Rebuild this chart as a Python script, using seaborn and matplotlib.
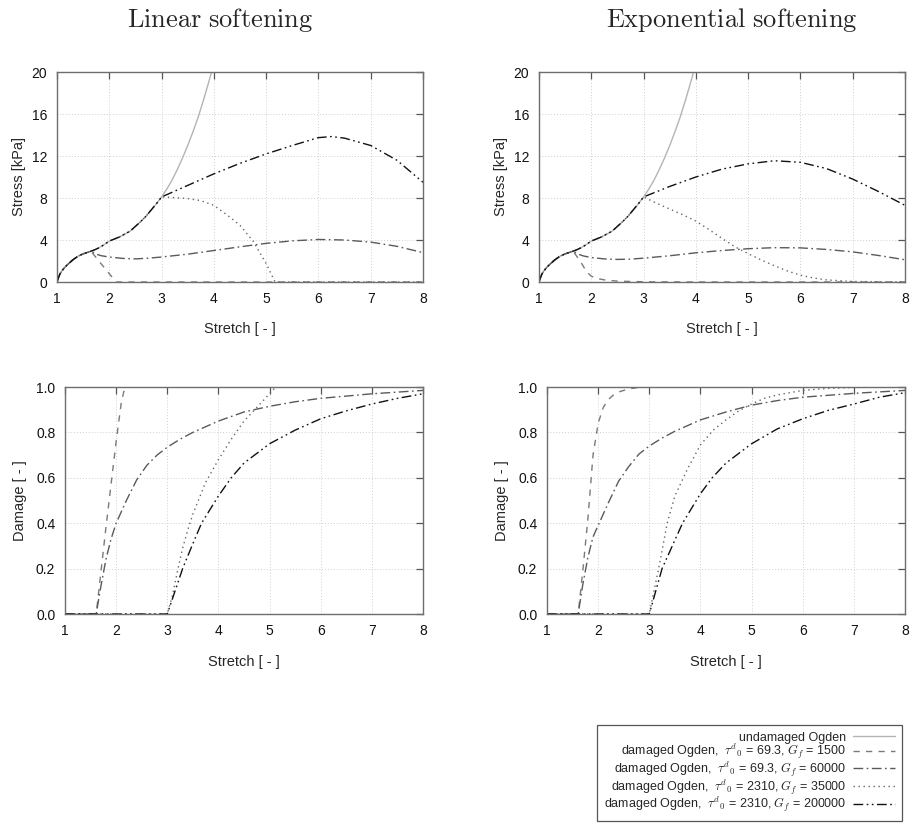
import matplotlib
matplotlib.use("Agg")
import matplotlib.pyplot as plt
import seaborn as sns

# ---------------- data ----------------
# undamaged Ogden stress [kPa] vs stretch [-]
undamaged_x = [1.0, 1.03, 1.06, 1.1, 1.15, 1.2, 1.3, 1.4, 1.5, 1.6, 1.7, 1.8, 1.9, 2.0,
               2.2, 2.4, 2.5, 2.6, 2.7, 2.8, 2.9, 3.0, 3.1, 3.2, 3.3, 3.4, 3.5, 3.6,
               3.7, 3.8, 3.9, 4.0]
undamaged_s = [0.0, 0.45, 0.8, 1.1, 1.4, 1.65, 2.1, 2.45, 2.68, 2.85, 3.02, 3.25, 3.55, 3.9,
               4.3, 4.85, 5.3, 5.75, 6.25, 6.85, 7.45, 8.1, 8.85, 9.7, 10.7, 11.8, 13.0, 14.3,
               15.7, 17.3, 19.0, 20.8]

# onset of damage (branch from the undamaged curve)
onset_low = 1.65     # tau_0 = 69.3
onset_high = 3.0     # tau_0 = 2310

# --- Linear softening: stress after onset ---
lin_s1_x = [1.65, 1.8, 1.9, 2.0, 2.13, 3.0, 5.0, 8.0]
lin_s1_y = [2.93, 2.0, 1.4, 0.8, 0.0, 0.0, 0.0, 0.0]
lin_s2_x = [1.65, 1.75, 1.85, 2.0, 2.25, 2.5, 2.75, 3.0, 3.5, 4.0, 4.5, 5.0, 5.5, 6.0, 6.5, 7.0, 7.5, 8.0]
lin_s2_y = [2.93, 2.65, 2.5, 2.38, 2.25, 2.2, 2.27, 2.38, 2.65, 3.0, 3.35, 3.68, 3.92, 4.05, 4.0, 3.8, 3.4, 2.8]
lin_s3_x = [3.1, 3.25, 3.5, 3.75, 4.0, 4.25, 4.5, 4.75, 5.0, 5.17, 6.0, 7.0, 8.0]
lin_s3_y = [8.08, 8.03, 7.95, 7.75, 7.3, 6.4, 5.4, 3.9, 1.75, 0.0, 0.0, 0.0, 0.0]
lin_s4_x = [3.25, 3.5, 4.0, 4.5, 5.0, 5.5, 6.0, 6.25, 6.5, 7.0, 7.5, 8.0]
lin_s4_y = [8.65, 9.2, 10.3, 11.3, 12.2, 13.0, 13.75, 13.85, 13.7, 13.0, 11.6, 9.5]

# --- Exponential softening: stress after onset ---
exp_s1_x = [1.65, 1.7, 1.75, 1.8, 1.9, 2.0, 2.1, 2.25, 2.5, 3.0, 4.0, 8.0]
exp_s1_y = [2.93, 2.6, 2.25, 1.9, 1.05, 0.55, 0.35, 0.2, 0.08, 0.02, 0.0, 0.0]
exp_s2_x = [1.65, 1.75, 1.85, 2.0, 2.25, 2.5, 2.75, 3.0, 3.5, 4.0, 4.5, 5.0, 5.5, 6.0, 6.5, 7.0, 7.5, 8.0]
exp_s2_y = [2.93, 2.65, 2.48, 2.33, 2.2, 2.15, 2.18, 2.27, 2.5, 2.78, 3.0, 3.17, 3.27, 3.25, 3.1, 2.87, 2.52, 2.12]
exp_s3_x = [3.25, 3.5, 3.75, 4.0, 4.25, 4.5, 4.75, 5.0, 5.25, 5.5, 5.75, 6.0, 6.25, 6.5, 7.0, 8.0]
exp_s3_y = [7.5, 6.95, 6.4, 5.8, 5.0, 4.15, 3.35, 2.7, 2.1, 1.55, 1.05, 0.65, 0.38, 0.2, 0.05, 0.0]
exp_s4_x = [3.25, 3.5, 4.0, 4.5, 5.0, 5.5, 6.0, 6.5, 7.0, 7.5, 8.0]
exp_s4_y = [8.6, 9.1, 10.0, 10.75, 11.25, 11.55, 11.4, 10.8, 9.8, 8.6, 7.3]

# --- Linear softening: damage ---
lin_d1_x = [1.0, 1.61, 1.7, 1.8, 1.9, 2.0, 2.1, 2.15, 2.2, 8.0]
lin_d1_y = [0.0, 0.0, 0.18, 0.38, 0.57, 0.76, 0.93, 0.98, 1.0, 1.0]
lin_d2_x = [1.0, 1.61, 1.7, 1.8, 1.9, 2.0, 2.2, 2.4, 2.6, 2.8, 3.0, 3.25, 3.5, 4.0, 4.5, 5.0, 5.5, 6.0, 7.0, 8.0]
lin_d2_y = [0.0, 0.0, 0.12, 0.24, 0.33, 0.4, 0.5, 0.59, 0.655, 0.7, 0.735, 0.77, 0.8, 0.85, 0.89, 0.915, 0.935, 0.95, 0.97, 0.985]
lin_d3_x = [1.0, 3.0, 3.1, 3.2, 3.3, 3.4, 3.5, 3.75, 4.0, 4.25, 4.5, 4.75, 5.0, 5.12, 8.0]
lin_d3_y = [0.0, 0.0, 0.08, 0.19, 0.29, 0.37, 0.44, 0.58, 0.68, 0.77, 0.85, 0.91, 0.97, 1.0, 1.0]
lin_d4_x = [1.0, 3.0, 3.15, 3.3, 3.5, 3.67, 4.0, 4.25, 4.5, 5.0, 5.5, 6.0, 6.5, 7.0, 7.5, 8.0]
lin_d4_y = [0.0, 0.0, 0.1, 0.2, 0.31, 0.4, 0.52, 0.6, 0.665, 0.75, 0.81, 0.86, 0.895, 0.925, 0.95, 0.97]

# --- Exponential softening: damage ---
exp_d1_x = [1.0, 1.61, 1.7, 1.8, 1.9, 2.0, 2.1, 2.2, 2.3, 2.4, 2.6, 2.8, 3.0, 8.0]
exp_d1_y = [0.0, 0.0, 0.19, 0.42, 0.7, 0.84, 0.91, 0.945, 0.965, 0.978, 0.992, 0.998, 1.0, 1.0]
exp_d2_x = [1.0, 1.61, 1.7, 1.8, 1.9, 2.0, 2.2, 2.4, 2.6, 2.8, 3.0, 3.25, 3.5, 4.0, 4.5, 5.0, 5.5, 6.0, 7.0, 8.0]
exp_d2_y = [0.0, 0.0, 0.13, 0.25, 0.34, 0.39, 0.49, 0.585, 0.65, 0.705, 0.74, 0.775, 0.805, 0.855, 0.89, 0.92, 0.94, 0.955, 0.972, 0.985]
exp_d3_x = [1.0, 3.0, 3.1, 3.2, 3.35, 3.5, 3.75, 4.0, 4.25, 4.5, 4.75, 5.0, 5.25, 5.5, 6.0, 6.5, 7.0, 8.0]
exp_d3_y = [0.0, 0.0, 0.11, 0.22, 0.4, 0.52, 0.64, 0.745, 0.81, 0.855, 0.895, 0.925, 0.95, 0.965, 0.985, 0.994, 0.998, 1.0]
exp_d4_x = [1.0, 3.0, 3.1, 3.25, 3.45, 3.65, 4.0, 4.23, 4.5, 5.0, 5.5, 6.0, 6.5, 7.0, 7.5, 8.0]
exp_d4_y = [0.0, 0.0, 0.08, 0.2, 0.3, 0.4, 0.53, 0.6, 0.665, 0.75, 0.815, 0.86, 0.897, 0.925, 0.955, 0.975]

titles = ["Linear softening", "Exponential softening"]
labels = [
    "undamaged Ogden",
    r"damaged Ogden,  $\tau^{d}{}_{0}$ = 69.3, $G_f$ = 1500",
    r"damaged Ogden,  $\tau^{d}{}_{0}$ = 69.3, $G_f$ = 60000",
    r"damaged Ogden,  $\tau^{d}{}_{0}$ = 2310, $G_f$ = 35000",
    r"damaged Ogden,  $\tau^{d}{}_{0}$ = 2310, $G_f$ = 200000",
]
stress_ticks = [0, 4, 8, 12, 16, 20]
damage_ticks = [0.0, 0.2, 0.4, 0.6, 0.8, 1.0]
stretch_ticks = [1, 2, 3, 4, 5, 6, 7, 8]

# ---------------- styling ----------------
sns.set_style("white")
plt.rcParams["font.family"] = ["Liberation Sans", "DejaVu Sans"]
plt.rcParams["mathtext.fontset"] = "cm"

styles = [
    dict(color="#b4b4b4", linestyle="-", lw=1.0),
    dict(color="#7a7a7a", linestyle=(0, (4.5, 4.5)), lw=1.0),
    dict(color="#5a5a5a", linestyle=(0, (7, 2.5, 1.2, 2.5)), lw=1.0),
    dict(color="#666666", linestyle=(0, (1.0, 2.6)), lw=1.0),
    dict(color="#111111", linestyle=(0, (7, 2.5, 1.2, 2.5, 1.2, 2.5)), lw=1.0),
]

TICK_FS = 10
LABEL_FS = 10.5


def with_prefix(upto, xs, ys):
    px = [x for x in undamaged_x if x < upto - 1e-9]
    py = [s for x, s in zip(undamaged_x, undamaged_s) if x < upto - 1e-9]
    return px + list(xs), py + list(ys)


def with_prefix_incl(upto, xs, ys):
    px = [x for x in undamaged_x if x <= upto + 1e-9]
    py = [s for x, s in zip(undamaged_x, undamaged_s) if x <= upto + 1e-9]
    return px + list(xs), py + list(ys)


def draw(ax, x, y, st, label=None):
    sns.lineplot(x=x, y=y, ax=ax, estimator=None, sort=False, label=label,
                 legend=False, **st)


def style_axes(ax, ylim, yticks, yfmt):
    ax.set_xlim(1, 8)
    ax.set_ylim(*ylim)
    ax.set_xticks(stretch_ticks)
    ax.set_yticks(yticks)
    ax.set_yticklabels([yfmt.format(v) for v in yticks])
    ax.grid(True, color="#cfcfcf", linestyle=(0, (1, 2)), lw=0.7)
    for sp in ax.spines.values():
        sp.set_visible(True)
        sp.set_color("#6e6e6e")
        sp.set_linewidth(1.0)
    ax.tick_params(direction="in", top=True, right=True, length=5, width=0.9,
                   color="#555555", labelsize=TICK_FS, pad=7, labelcolor="#111111")


fig = plt.figure(figsize=(9.13, 8.24), dpi=100)
W, H = 913.0, 824.0


def axes_px(l, t, r, b):
    return fig.add_axes([l / W, 1 - b / H, (r - l) / W, (b - t) / H])


ax_tl = axes_px(57, 72, 423, 282)
ax_tr = axes_px(539, 72, 905, 282)
ax_bl = axes_px(65, 387, 423, 614)
ax_br = axes_px(547, 387, 905, 614)

stress_sets = [
    (ax_tl, (lin_s1_x, lin_s1_y), (lin_s2_x, lin_s2_y), (lin_s3_x, lin_s3_y), (lin_s4_x, lin_s4_y)),
    (ax_tr, (exp_s1_x, exp_s1_y), (exp_s2_x, exp_s2_y), (exp_s3_x, exp_s3_y), (exp_s4_x, exp_s4_y)),
]
for ax, s1, s2, s3, s4 in stress_sets:
    draw(ax, undamaged_x, undamaged_s, styles[0], labels[0])
    x, y = with_prefix(onset_low, *s1)
    draw(ax, x, y, styles[1], labels[1])
    x, y = with_prefix(onset_low, *s2)
    draw(ax, x, y, styles[2], labels[2])
    x, y = with_prefix_incl(onset_high, *s3)
    draw(ax, x, y, styles[3], labels[3])
    x, y = with_prefix_incl(onset_high, *s4)
    draw(ax, x, y, styles[4], labels[4])
    style_axes(ax, (0, 20), stress_ticks, "{:g}")
    ax.set_ylabel("Stress [kPa]", fontsize=LABEL_FS)
    ax.set_xlabel("Stretch [ - ]", fontsize=LABEL_FS)
    ax.yaxis.set_label_coords(-0.085, 0.5)
    ax.xaxis.set_label_coords(0.5, -0.19)

damage_sets = [
    (ax_bl, (lin_d1_x, lin_d1_y), (lin_d2_x, lin_d2_y), (lin_d3_x, lin_d3_y), (lin_d4_x, lin_d4_y)),
    (ax_br, (exp_d1_x, exp_d1_y), (exp_d2_x, exp_d2_y), (exp_d3_x, exp_d3_y), (exp_d4_x, exp_d4_y)),
]
for ax, d1, d2, d3, d4 in damage_sets:
    for i, d in enumerate([d1, d2, d3, d4], start=1):
        draw(ax, d[0], d[1], styles[i])
    style_axes(ax, (0, 1.0), damage_ticks, "{:.1f}")
    ax.set_ylabel("Damage [ - ]", fontsize=LABEL_FS)
    ax.set_xlabel("Stretch [ - ]", fontsize=LABEL_FS)
    ax.yaxis.set_label_coords(-0.106, 0.5)
    ax.xaxis.set_label_coords(0.5, -0.18)

for cx, t in zip([220, 732], titles):
    fig.text(cx / W, 1 - 20 / H, r"$\mathrm{%s}$" % t.replace(" ", r"\ "),
             ha="center", va="center", fontsize=19)

handles = ax_tl.get_lines()[:5]
leg = fig.legend(handles, labels, loc="lower right",
                 bbox_to_anchor=(902 / W, 1 - 821 / H), borderaxespad=0,
                 markerfirst=False, fancybox=False, fontsize=9,
                 handlelength=3.4, labelspacing=-0.12, borderpad=0.55,
                 handletextpad=0.5, framealpha=1)
leg.get_frame().set_edgecolor("#555555")
leg.get_frame().set_linewidth(0.9)

fig.savefig("out.png", dpi=100)
